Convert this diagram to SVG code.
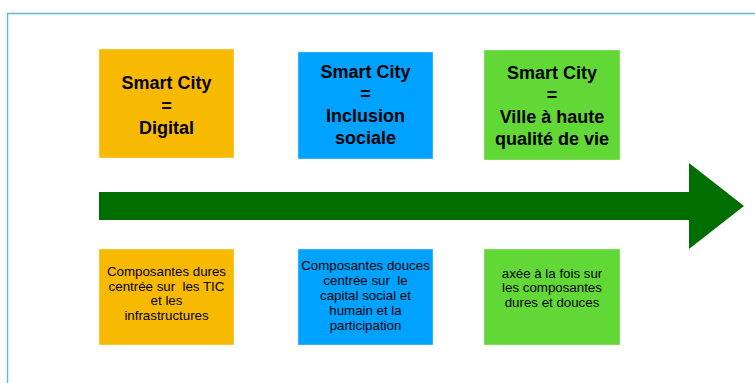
<svg xmlns="http://www.w3.org/2000/svg" width="755" height="383" viewBox="0 0 755 383">
<style>
.box{stroke:#ffffff;stroke-opacity:0.35;stroke-width:1}
.t{font-family:"Liberation Sans",Arial,sans-serif;font-weight:bold;font-size:18px;fill:#000;text-anchor:middle}
.s{font-family:"Liberation Sans",Arial,sans-serif;font-size:13.3px;fill:#000;text-anchor:middle;white-space:pre}
</style>
<rect width="755" height="383" fill="#ffffff"/>
<path d="M7.5 383 V13.5 H755" fill="none" stroke="#62b9c8" stroke-width="1.3"/>
<path d="M8.8 383 V14.8 H755" fill="none" stroke="#d6eef2" stroke-width="1"/>
<g id="connectors">
<path id="arrow" d="M99 192 H689 V163 L744 206 L689 249 V220 H99 Z" fill="#006e00"/>
</g>
<g id="top-digital">
<rect class="box" x="99" y="49" width="135" height="109" fill="#f8ba00"/>
<text class="t" x="166.5" y="89">Smart City</text>
<text class="t" x="166.5" y="111.5">=</text>
<text class="t" x="166.5" y="134">Digital</text>
</g>
<g id="top-inclusion">
<rect class="box" x="298" y="52" width="135" height="107" fill="#00a2ff"/>
<text class="t" x="365.5" y="78">Smart City</text>
<text class="t" x="365.5" y="100">=</text>
<text class="t" x="365.5" y="122">Inclusion</text>
<text class="t" x="365.5" y="144">sociale</text>
</g>
<g id="top-qualite">
<rect class="box" x="484" y="50" width="136" height="110" fill="#61d836"/>
<text class="t" x="552" y="79">Smart City</text>
<text class="t" x="552" y="101">=</text>
<text class="t" x="552" y="123">Ville à haute</text>
<text class="t" x="552" y="145">qualité de vie</text>
</g>
<g id="bottom-digital">
<rect class="box" x="99" y="249" width="135" height="96" fill="#f8ba00"/>
<text class="s" x="166.5" y="276">Composantes dures</text>
<text class="s" x="166.5" y="290.5" xml:space="preserve">centrée sur  les TIC</text>
<text class="s" x="166.5" y="305">et les</text>
<text class="s" x="166.5" y="319.5">infrastructures</text>
</g>
<g id="bottom-inclusion">
<rect class="box" x="298" y="249" width="135" height="96" fill="#00a2ff"/>
<text class="s" x="365.5" y="270">Composantes douces</text>
<text class="s" x="365.5" y="285" xml:space="preserve">centrée sur  le</text>
<text class="s" x="365.5" y="300">capital social et</text>
<text class="s" x="365.5" y="315">humain et la</text>
<text class="s" x="365.5" y="330">participation</text>
</g>
<g id="bottom-qualite">
<rect class="box" x="484" y="249" width="136" height="96" fill="#61d836"/>
<text class="s" x="552" y="277.5">axée à la fois sur</text>
<text class="s" x="552" y="292">les composantes</text>
<text class="s" x="552" y="306.5">dures et douces</text>
</g>
</svg>
